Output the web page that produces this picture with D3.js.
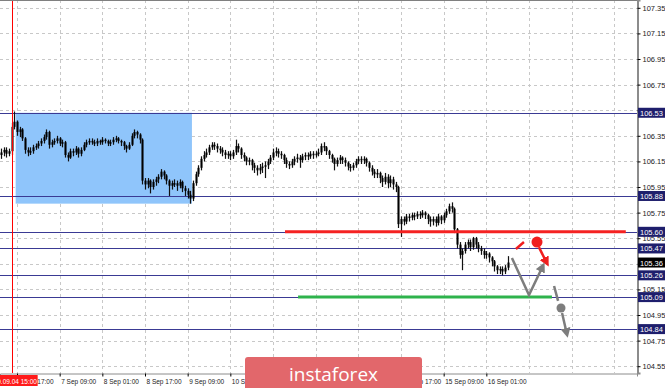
<!DOCTYPE html>
<html>
<head>
<meta charset="utf-8">
<script src="https://cdn.jsdelivr.net/npm/d3@7"></script>
<style>
  body { margin: 0; background: #fff; }
  svg { display: block; font-family: "Liberation Sans", Arial, sans-serif; }
</style>
</head>
<body>
<script>
/////////////////////////////// вихідні дані (H1 свічки, індекс 0 = 4 Sep 11:00)
const firstOpen = 106.20;
const closes = [
  106.22,106.24,106.21,106.23,106.42,106.46,106.38,106.40,106.33,106.24,
  106.22,106.23,106.26,106.27,106.29,106.31,106.34,106.38,106.28,106.30,
  106.31,106.33,106.29,106.30,106.20,106.18,106.23,106.22,106.25,106.21,
  106.24,106.28,106.30,106.31,106.30,106.29,106.31,106.30,106.32,106.31,
  106.29,106.30,106.32,106.33,106.31,106.30,106.27,106.25,106.28,106.35,
  106.38,106.36,106.32,106.00,105.97,106.00,105.95,105.99,106.01,106.03,
  106.07,106.04,106.00,105.96,105.98,105.98,105.96,105.99,105.94,105.92,
  105.89,105.86,105.98,106.05,106.10,106.17,106.20,106.22,106.26,106.28,
  106.27,106.25,106.24,106.22,106.20,106.21,106.19,106.22,106.27,106.25,
  106.20,106.18,106.15,106.16,106.12,106.10,106.08,106.10,106.11,106.12,
  106.15,106.18,106.22,106.23,106.21,106.20,106.16,106.13,106.12,106.15,
  106.17,106.18,106.16,106.19,106.20,106.19,106.21,106.20,106.21,106.22,
  106.27,106.26,106.23,106.20,106.17,106.13,106.16,106.18,106.16,106.14,
  106.11,106.10,106.12,106.15,106.17,106.16,106.17,106.14,106.10,106.07,
  106.05,106.06,106.02,105.99,106.03,105.98,106.01,105.97,105.95,105.66,
  105.70,105.68,105.72,105.71,105.73,105.72,105.74,105.73,105.75,105.73,
  105.70,105.68,105.70,105.67,105.72,105.69,105.73,105.76,105.80,105.78,
  105.62,105.50,105.42,105.45,105.50,105.52,105.48,105.55,105.50,105.47,
  105.45,105.42,105.43,105.40,105.37,105.33,105.30,105.31,105.29,105.32,
  105.36
];
const highs = [
  106.25,106.26,106.26,106.25,106.45,106.54,106.47,106.42,106.41,106.34,
  106.26,106.26,106.28,106.29,106.31,106.33,106.36,106.40,106.39,106.32,
  106.33,106.35,106.34,106.32,106.31,106.22,106.25,106.25,106.27,106.26,
  106.26,106.30,106.32,106.33,106.33,106.32,106.33,106.32,106.34,106.33,
  106.32,106.32,106.34,106.35,106.34,106.32,106.31,106.28,106.30,106.37,
  106.40,106.39,106.37,106.33,106.02,106.02,106.01,106.01,106.03,106.05,
  106.09,106.08,106.05,106.01,106.00,106.01,106.00,106.01,106.00,105.96,
  105.94,105.92,106.00,106.07,106.12,106.19,106.23,106.25,106.28,106.30,
  106.30,106.29,106.27,106.26,106.24,106.23,106.23,106.24,106.32,106.29,
  106.26,106.22,106.19,106.18,106.17,106.14,106.12,106.13,106.14,106.15,
  106.17,106.20,106.25,106.26,106.25,106.23,106.21,106.18,106.15,106.17,
  106.19,106.21,106.20,106.21,106.22,106.22,106.23,106.23,106.23,106.25,
  106.29,106.30,106.27,106.24,106.21,106.18,106.18,106.20,106.19,106.18,
  106.15,106.13,106.14,106.17,106.19,106.19,106.19,106.18,106.15,106.12,
  106.09,106.09,106.07,106.04,106.06,106.05,106.04,106.03,105.99,105.96,
  105.72,105.72,105.74,105.74,105.75,105.75,105.76,105.76,105.77,105.76,
  105.74,105.72,105.72,105.72,105.74,105.73,105.75,105.78,105.82,105.83,
  105.79,105.63,105.52,105.47,105.52,105.54,105.54,105.56,105.56,105.52,
  105.49,105.47,105.45,105.44,105.41,105.38,105.34,105.33,105.33,105.34,
  105.41
];
const lows = [
  106.17,106.19,106.18,106.19,106.20,106.40,106.35,106.34,106.31,106.21,
  106.19,106.20,106.21,106.24,106.25,106.27,106.29,106.32,106.25,106.26,
  106.28,106.29,106.27,106.26,106.18,106.15,106.17,106.19,106.20,106.18,
  106.19,106.23,106.26,106.28,106.28,106.27,106.27,106.28,106.28,106.29,
  106.27,106.27,106.28,106.30,106.29,106.27,106.24,106.22,106.24,106.27,
  106.33,106.33,106.29,105.97,105.93,105.94,105.90,105.93,105.96,105.98,
  106.01,106.01,105.97,105.88,105.93,105.95,105.92,105.94,105.91,105.88,
  105.86,105.82,105.84,105.96,106.03,106.08,106.15,106.18,106.20,106.24,
  106.24,106.22,106.21,106.19,106.17,106.17,106.16,106.17,106.20,106.22,
  106.17,106.15,106.12,106.12,106.08,106.06,106.04,106.05,106.06,106.02,
  106.09,106.13,106.16,106.19,106.18,106.17,106.13,106.10,106.09,106.10,
  106.12,106.14,106.10,106.14,106.16,106.16,106.17,106.17,106.18,106.19,
  106.20,106.23,106.20,106.17,106.14,106.08,106.11,106.13,106.13,106.11,
  106.08,106.07,106.08,106.10,106.13,106.13,106.13,106.11,106.07,106.04,
  106.02,106.02,105.98,105.95,105.97,105.94,105.95,105.93,105.91,105.63,
  105.56,105.65,105.66,105.68,105.69,105.69,105.70,105.70,105.71,105.70,
  105.66,105.64,105.65,105.64,105.65,105.66,105.67,105.71,105.74,105.75,
  105.59,105.47,105.39,105.30,105.43,105.47,105.45,105.46,105.47,105.44,
  105.42,105.39,105.39,105.36,105.33,105.29,105.27,105.27,105.26,105.27,
  105.30
];

/////////////////////////////// підписи осей
const timeIdx = [6, 22, 38, 54, 70, 86, 102, 118, 134, 150, 166, 182];
const timeLabels = ["4 Sep 17:00", "7 Sep 09:00", "8 Sep 01:00", "8 Sep 17:00", "9 Sep 09:00",
  "10 Sep 01:00", "10 Sep 17:00", "11 Sep 09:00", "14 Sep 01:00", "14 Sep 17:00",
  "15 Sep 09:00", "16 Sep 01:00"];
const extraGridIdx = [198, 214, 230];
const priceTicks = [107.35, 107.15, 106.95, 106.75, 106.55, 106.35, 106.15, 105.95,
  105.75, 105.55, 105.35, 105.15, 104.95, 104.75, 104.55];

/////////////////////////////// рівні та розмітка
const levels = [106.53, 105.88, 105.60, 105.47, 105.26, 105.09, 104.84];
const lastPrice = 105.36;
const markerIdx = 4;
const markerLabel = "2020.09.04 15:00";
const zone = { from: 5.5, to: 71.6, top: 106.53, bottom: 105.82 };
const redLevel = { price: 105.60, from: 106.5, to: 234.3 };
const greenLevel = { price: 105.09, from: 111.4, to: 206.6 };
const redStroke = [[193.1, 105.466], [196.1, 105.52]];
const redDot = [201.0, 105.52];
const redArrow = [[201.7, 105.48], [204.7, 105.356]];
const grayPath = [[191.6, 105.395], [198.0, 105.106], [203.2, 105.333]];
const grayDash = [[207.4, 105.177], [208.9, 105.06]];
const grayDot = [210.0, 105.005];
const grayArrow = [[210.4, 104.966], [212.2, 104.802]];

/////////////////////////////// розміри
const W = 665, H = 388;
const plotW = 637, plotH = 373;
const wm = { x: 245, y: 357, w: 177, h: 40 }; // водяний знак

const svg = d3.select("body").append("svg").attr("width", W).attr("height", H);

const x = d3.scaleLinear().domain([-0.375, 238.5]).range([0, plotW]);
const y = d3.scaleLinear().domain([104.497, 107.411]).range([plotH, 0]);

const candles = closes.map((c, i) => ({
  i: i, o: i ? closes[i - 1] : firstOpen, c: c, h: highs[i], l: lows[i]
}));

// сітка
const grid = svg.append("g").attr("stroke", "#c8c8c8").attr("stroke-dasharray", "3,3").attr("stroke-width", 1);
grid.selectAll(".gx").data(timeIdx.concat(extraGridIdx)).enter().append("line")
  .attr("x1", d => Math.round(x(d)) + 0.5).attr("x2", d => Math.round(x(d)) + 0.5)
  .attr("y1", 0).attr("y2", plotH);
grid.selectAll(".gy").data(priceTicks).enter().append("line")
  .attr("x1", 0).attr("x2", plotW)
  .attr("y1", d => Math.round(y(d)) + 0.5).attr("y2", d => Math.round(y(d)) + 0.5);

// синя зона
svg.append("rect")
  .attr("x", x(zone.from)).attr("width", x(zone.to) - x(zone.from))
  .attr("y", y(zone.top)).attr("height", y(zone.bottom) - y(zone.top))
  .attr("fill", "#8fc5fb");

// горизонтальні рівні
svg.selectAll(".lvl").data(levels).enter().append("line")
  .attr("x1", 0).attr("x2", plotW)
  .attr("y1", d => Math.round(y(d)) + 0.5).attr("y2", d => Math.round(y(d)) + 0.5)
  .attr("stroke", "#3a3a94").attr("stroke-width", 1);

// свічки
const cg = svg.append("g");
cg.selectAll(".wick").data(candles).enter().append("line")
  .attr("x1", d => Math.round(x(d.i)) + 0.5).attr("x2", d => Math.round(x(d.i)) + 0.5)
  .attr("y1", d => y(d.h)).attr("y2", d => y(d.l))
  .attr("stroke", "#111").attr("stroke-width", 1.2);
cg.selectAll(".body").data(candles).enter().append("rect")
  .attr("x", d => Math.round(x(d.i)) - 0.5).attr("width", 2)
  .attr("y", d => y(Math.max(d.o, d.c)))
  .attr("height", d => Math.max(1.5, Math.abs(y(d.o) - y(d.c))))
  .attr("fill", "#000");

// червона і зелена лінії
svg.append("line")
  .attr("x1", x(redLevel.from)).attr("x2", x(redLevel.to))
  .attr("y1", y(redLevel.price)).attr("y2", y(redLevel.price))
  .attr("stroke", "#f52222").attr("stroke-width", 3);
svg.append("line")
  .attr("x1", x(greenLevel.from)).attr("x2", x(greenLevel.to))
  .attr("y1", y(greenLevel.price)).attr("y2", y(greenLevel.price))
  .attr("stroke", "#2eb34c").attr("stroke-width", 3);

// червона вертикаль
svg.append("line")
  .attr("x1", Math.round(x(markerIdx)) + 0.5).attr("x2", Math.round(x(markerIdx)) + 0.5)
  .attr("y1", 0).attr("y2", plotH)
  .attr("stroke", "#ff0000").attr("stroke-width", 1);

// стрілки
const defs = svg.append("defs");
function head(id, color) {
  defs.append("marker").attr("id", id)
    .attr("viewBox", "0 0 10 10").attr("refX", 6).attr("refY", 5)
    .attr("markerWidth", 4).attr("markerHeight", 4)
    .attr("orient", "auto")
    .append("path").attr("d", "M0,0 L10,5 L0,10 Z").attr("fill", color);
}
head("hRed", "#f01e1e");
head("hGray", "#7d7d7d");
const line = d3.line().x(d => x(d[0])).y(d => y(d[1]));

svg.append("path").attr("d", line(redStroke)).attr("fill", "none")
  .attr("stroke", "#f01e1e").attr("stroke-width", 2.5);
svg.append("circle").attr("cx", x(redDot[0])).attr("cy", y(redDot[1])).attr("r", 5.5)
  .attr("fill", "#f01e1e");
svg.append("path").attr("d", line(redArrow)).attr("fill", "none")
  .attr("stroke", "#f01e1e").attr("stroke-width", 2.5).attr("marker-end", "url(#hRed)");

svg.append("path").attr("d", line(grayPath)).attr("fill", "none")
  .attr("stroke", "#7d7d7d").attr("stroke-width", 2.5).attr("stroke-linejoin", "miter")
  .attr("marker-end", "url(#hGray)");
svg.append("path").attr("d", line(grayDash)).attr("fill", "none")
  .attr("stroke", "#7d7d7d").attr("stroke-width", 2.5);
svg.append("circle").attr("cx", x(grayDot[0])).attr("cy", y(grayDot[1])).attr("r", 4.5)
  .attr("fill", "#7d7d7d");
svg.append("path").attr("d", line(grayArrow)).attr("fill", "none")
  .attr("stroke", "#7d7d7d").attr("stroke-width", 2.5).attr("marker-end", "url(#hGray)");

// рамка
svg.append("line").attr("x1", 0).attr("x2", plotW + 1).attr("y1", 0.5).attr("y2", 0.5)
  .attr("stroke", "#808080");

// права вісь (підписи, закриті плашками рівнів, не показуються)
const marks = levels.concat([lastPrice]);
const yAxis = svg.append("g")
  .attr("transform", "translate(" + (plotW + 0.5) + ",0)")
  .call(d3.axisRight(y).tickValues(priceTicks).tickFormat(d3.format(".2f")).tickSize(3).tickPadding(2));
yAxis.select(".domain").attr("stroke", "#8c8c8c").attr("stroke-width", 2);
yAxis.selectAll("text").attr("font-size", 7.5).attr("fill", "#222")
  .attr("font-family", "Liberation Sans, Arial, sans-serif");
yAxis.selectAll(".tick").filter(d => marks.some(m => Math.abs(m - d) < 0.03))
  .select("text").remove();

// нижня вісь (підписи під водяним знаком не показуються)
const xAxis = svg.append("g")
  .attr("transform", "translate(0," + (plotH + 0.5) + ")")
  .call(d3.axisBottom(x).tickValues(timeIdx).tickFormat((d, i) => timeLabels[i]).tickSize(3).tickPadding(3));
xAxis.select(".domain").attr("stroke", "#8c8c8c");
xAxis.selectAll("text").attr("font-size", 6.5).attr("fill", "#222")
  .attr("text-anchor", "start").attr("dx", 1)
  .attr("font-family", "Liberation Sans, Arial, sans-serif");
xAxis.selectAll(".tick").filter(d => x(d) > wm.x && x(d) + 40 < wm.x + wm.w)
  .select("text").remove();

// підписи рівнів
const lg = svg.append("g");
levels.forEach(p => {
  lg.append("rect").attr("x", plotW + 1).attr("y", y(p) - 5).attr("width", 27).attr("height", 10)
    .attr("fill", "#1e1e6c");
  lg.append("text").attr("x", plotW + 3).attr("y", y(p) + 3)
    .attr("font-size", 7.5).attr("fill", "#fff").text(p.toFixed(2));
});
lg.append("rect").attr("x", plotW + 1).attr("y", y(lastPrice) - 5).attr("width", 27).attr("height", 10)
  .attr("fill", "#000");
lg.append("text").attr("x", plotW + 3).attr("y", y(lastPrice) + 3)
  .attr("font-size", 7.5).attr("fill", "#fff").text(lastPrice.toFixed(2));

// мітка часу червоної вертикалі
svg.append("rect").attr("x", x(markerIdx) - 26).attr("y", plotH + 2).attr("width", 52).attr("height", 11)
  .attr("fill", "#ff1a1a");
svg.append("text").attr("x", x(markerIdx)).attr("y", plotH + 10.5)
  .attr("text-anchor", "middle").attr("font-size", 6.5).attr("fill", "#fff").text(markerLabel);

// водяний знак
svg.append("rect").attr("x", wm.x).attr("y", wm.y).attr("width", wm.w).attr("height", wm.h).attr("rx", 3)
  .attr("fill", "#e2676b");
svg.append("text").attr("x", wm.x + wm.w / 2).attr("y", 381).attr("text-anchor", "middle")
  .attr("font-family", "Open Sans, sans-serif").attr("font-size", 19).attr("fill", "#fff")
  .text("instaforex");
</script>
</body>
</html>
